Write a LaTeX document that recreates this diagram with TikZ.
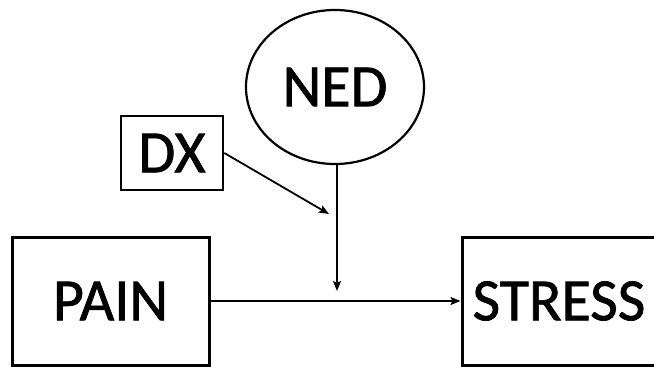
\documentclass[tikz,border=0pt]{standalone}
\usepackage{fontspec}
\setmainfont{Carlito}[FakeBold=1.2]
\usetikzlibrary{arrows.meta,shapes.geometric}
\tikzset{
  label font/.style={font=\fontsize{60}{66}\selectfont},
  box/.style={draw, line width=3pt, rectangle, inner sep=0pt, label font},
  smallbox/.style={draw, line width=2.6pt, rectangle, inner sep=0pt, label font},
  oval/.style={draw, line width=2.2pt, ellipse, inner sep=0pt, label font},
  link/.style={line width=1.8pt, -{Stealth[length=10pt,width=8pt,inset=2pt]}}
}
\begin{document}
\begin{tikzpicture}[x=1pt,y=-1pt]
  \useasboundingbox (0,0) rectangle (654,367);
  % variables
  \node[box, minimum width=197pt, minimum height=128pt] (pain) at (110.5,301) {PAIN};
  \node[box, minimum width=194pt, minimum height=128pt] (stress) at (559,301) {STRESS};
  \node[oval, minimum width=178pt, minimum height=154pt] (ned) at (335,87) {NED};
  \node[smallbox, minimum width=102pt, minimum height=74pt] (dx) at (172,153) {DX};
  % free ends of the moderator arrows
  \coordinate (m1) at (337,291);
  \coordinate (m2) at (329,214);
  % connectors
  \draw[link] (pain.east) -- (stress.west);
  \draw[link] (ned.south -| m1) -- (m1);
  \draw[link] (dx.east) -- (m2);
\end{tikzpicture}
\end{document}
